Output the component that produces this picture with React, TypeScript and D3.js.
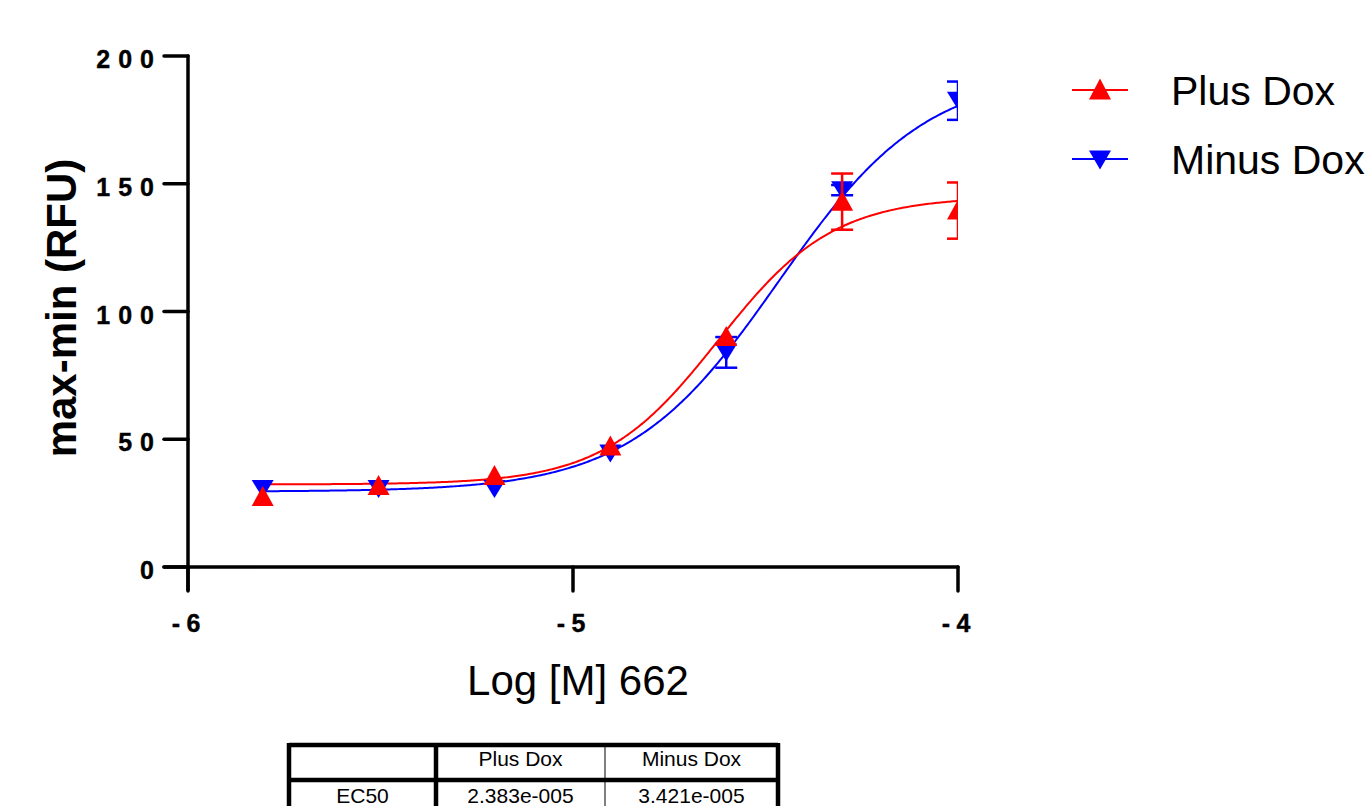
import React from "react";
import * as d3 from "d3";

const logX = [-5.806, -5.505, -5.204, -4.903, -4.602, -4.301, -4.0];
const plusY = [27.4, 31.7, 35.6, 47.2, 90, 143, 139.5];
const plusErr = [0, 0, 0, 0, 0, 11, 11];
const minusY = [30.5, 30.5, 30.5, 44.4, 84, 147.5, 182.5];
const minusErr = [0, 0, 0, 0, 6, 2, 7.5];

const plusFit = { bottom: 32.3, top: 145, logEC50: -4.623, hill: 2.9 };
const minusFit = { bottom: 29.5, top: 194, logEC50: -4.466, hill: 2.25 };

const xTicks = [-6, -5, -4];
const yTicks = [0, 50, 100, 150, 200];
const tableHeader = ["", "Plus Dox", "Minus Dox"];
const tableRow = ["EC50", "2.383e-005", "3.421e-005"];

const seriesNames = ["Plus Dox", "Minus Dox"];
const seriesColors = ["#ff0000", "#0000ff"];

const FONT = "Arial, 'Liberation Sans', sans-serif";

function fourPL(p: { bottom: number; top: number; logEC50: number; hill: number }, x: number) {
  return p.bottom + (p.top - p.bottom) / (1 + Math.pow(10, (p.logEC50 - x) * p.hill));
}

export default function App() {
  const x = d3.scaleLinear().domain([-6, -4]).range([188, 958]);
  const y = d3.scaleLinear().domain([0, 200]).range([567, 56]);

  const line = d3
    .line<[number, number]>()
    .x((d) => x(d[0]))
    .y((d) => y(d[1]))
    .curve(d3.curveLinear);

  const xs = d3.range(0, 401).map((i) => logX[0] + ((-4 - logX[0]) * i) / 400);
  const plusCurve = xs.map((v) => [v, fourPL(plusFit, v)] as [number, number]);
  const minusCurve = xs.map((v) => [v, fourPL(minusFit, v)] as [number, number]);

  const tri = (cx: number, cy: number, up: boolean, w = 22, h = 20) => {
    if (up) return `M${cx},${cy - h / 2 - 1}L${cx + w / 2},${cy + h / 2 - 1}L${cx - w / 2},${cy + h / 2 - 1}Z`;
    return `M${cx},${cy + h / 2}L${cx + w / 2},${cy - h / 2}L${cx - w / 2},${cy - h / 2}Z`;
  };

  const errBars = (vals: number[], errs: number[], color: string) =>
    vals.map((v, i) => {
      if (!errs[i]) return null;
      const cx = x(logX[i]);
      const y1 = y(v + errs[i]);
      const y2 = y(v - errs[i]);
      return (
        <g key={i} stroke={color} strokeWidth={2.5}>
          <line x1={cx} x2={cx} y1={y1} y2={y2} />
          <line x1={cx - 11} x2={cx + 11} y1={y1} y2={y1} />
          <line x1={cx - 11} x2={cx + 11} y1={y2} y2={y2} />
        </g>
      );
    });

  const yls = 8;
  const xls = 6.5;

  // table geometry
  const tx = [289, 436, 605, 778];
  const ty = [745, 780, 830];

  return (
    <svg
      width={1368}
      height={806}
      style={{ position: "absolute", left: 0, top: 0, background: "#fff" }}
      fontFamily={FONT}
    >
      <defs>
        <clipPath id="plotclip">
          <rect x={170} y={0} width={958 - 170} height={620} />
        </clipPath>
      </defs>

      {/* curves and points */}
      <g clipPath="url(#plotclip)">
        <path d={line(minusCurve) || ""} fill="none" stroke={seriesColors[1]} strokeWidth={2} />
        <path d={line(plusCurve) || ""} fill="none" stroke={seriesColors[0]} strokeWidth={2} />
        {errBars(minusY, minusErr, seriesColors[1])}
        {minusY.map((v, i) => (
          <path key={"m" + i} d={tri(x(logX[i]), y(v), false, 22, 18)} fill={seriesColors[1]} />
        ))}
        {errBars(plusY, plusErr, seriesColors[0])}
        {plusY.map((v, i) => (
          <path key={"p" + i} d={tri(x(logX[i]), y(v), true, 22, 20)} fill={seriesColors[0]} />
        ))}
      </g>

      {/* axes */}
      <g stroke="#000" strokeWidth={3.5} strokeLinecap="round">
        <line x1={188} x2={188} y1={56} y2={590} />
        <line x1={164} x2={958} y1={567} y2={567} />
        {yTicks.map((t) => (
          <line key={"yt" + t} x1={164} x2={188} y1={y(t)} y2={y(t)} />
        ))}
        {xTicks.map((t) => (
          <line key={"xt" + t} x1={x(t)} x2={x(t)} y1={567} y2={591} />
        ))}
      </g>
      {yTicks.map((t) => (
        <text
          key={"yl" + t}
          x={154 + yls}
          y={y(t) + 12}
          textAnchor="end"
          fontSize={25}
          fontWeight="bold"
          letterSpacing={yls}
          stroke="#000"
          strokeWidth={0.4}
        >
          {t}
        </text>
      ))}
      {xTicks.map((t) => (
        <text
          key={"xl" + t}
          x={x(t) + xls / 2 - 2}
          y={632}
          textAnchor="middle"
          fontSize={25}
          fontWeight="bold"
          letterSpacing={xls}
          stroke="#000"
          strokeWidth={0.4}
        >
          {t}
        </text>
      ))}

      <text
        transform="translate(76,308) rotate(-90)"
        textAnchor="middle"
        fontSize={42}
        fontWeight="bold"
      >
        max-min (RFU)
      </text>
      <text x={578} y={695} textAnchor="middle" fontSize={42}>
        Log [M] 662
      </text>

      {/* legend */}
      {seriesNames.map((name, i) => {
        const ly = 90 + i * 69;
        return (
          <g key={name}>
            <line x1={1072} x2={1128} y1={ly} y2={ly} stroke={seriesColors[i]} strokeWidth={2} />
            <path
              d={i === 0 ? tri(1100, ly, true, 22, 21) : tri(1100, ly + 1, false, 22, 19)}
              fill={seriesColors[i]}
            />
            <text x={1171} y={ly + 15} fontSize={41}>
              {name}
            </text>
          </g>
        );
      })}

      {/* table */}
      <g stroke="#000">
        <line x1={tx[0]} x2={tx[3]} y1={ty[0]} y2={ty[0]} strokeWidth={4.5} />
        <line x1={tx[0]} x2={tx[3]} y1={ty[1]} y2={ty[1]} strokeWidth={4.5} />
        <line x1={tx[0]} x2={tx[0]} y1={ty[0] - 2} y2={ty[2]} strokeWidth={4.5} />
        <line x1={tx[1]} x2={tx[1]} y1={ty[0]} y2={ty[2]} strokeWidth={4.5} />
        <line x1={tx[2]} x2={tx[2]} y1={ty[0]} y2={ty[2]} strokeWidth={1} />
        <line x1={tx[3]} x2={tx[3]} y1={ty[0] - 2} y2={ty[2]} strokeWidth={4.5} />
      </g>
      {tableHeader.map((h, i) => (
        <text key={"th" + i} x={(tx[i] + tx[i + 1]) / 2} y={766} textAnchor="middle" fontSize={21}>
          {h}
        </text>
      ))}
      {tableRow.map((h, i) => (
        <text key={"tr" + i} x={(tx[i] + tx[i + 1]) / 2} y={803} textAnchor="middle" fontSize={21}>
          {h}
        </text>
      ))}
    </svg>
  );
}
